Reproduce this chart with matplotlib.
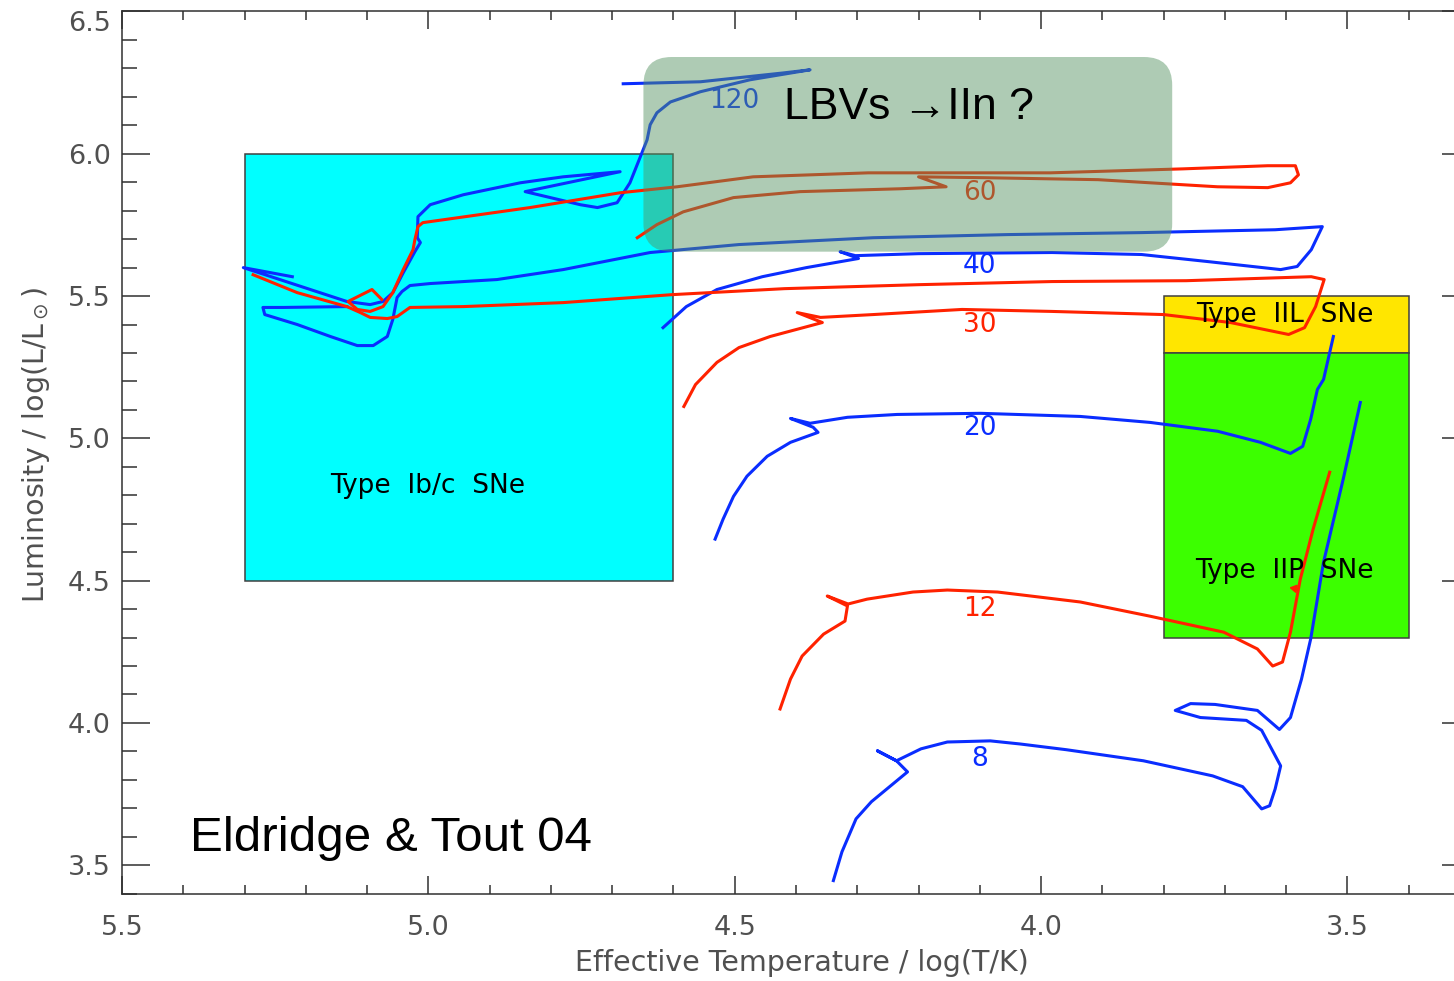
import numpy as np
import matplotlib
matplotlib.use("Agg")
import matplotlib.pyplot as plt
from matplotlib.patches import Rectangle, FancyBboxPatch
from matplotlib.ticker import MultipleLocator

# --- evolutionary tracks (log Teff, log L/Lsun) ---
logT_120 = [4.682, 4.556, 4.421, 4.377, 4.475, 4.556, 4.605, 4.627, 4.638, 4.643,
            4.671, 4.692, 4.724, 4.752, 4.842, 4.687, 4.780, 4.850, 4.943, 4.997,
            5.017, 5.018, 5.013, 5.022, 5.041, 5.058, 5.074, 5.095, 5.133, 5.302, 5.222]
logL_120 = [6.246, 6.253, 6.284, 6.295, 6.260, 6.218, 6.182, 6.144, 6.102, 6.049,
            5.898, 5.828, 5.811, 5.821, 5.867, 5.937, 5.919, 5.898, 5.856, 5.821,
            5.779, 5.705, 5.688, 5.656, 5.582, 5.512, 5.481, 5.470, 5.481, 5.600, 5.568]

logT_60 = [4.659, 4.627, 4.584, 4.502, 4.393, 4.230, 4.155, 4.200, 4.094, 3.907,
           3.822, 3.712, 3.630, 3.593, 3.580, 3.585, 3.630, 3.768, 3.985, 4.282,
           4.470, 4.594, 4.687, 4.834, 5.009, 5.017, 5.022, 5.025, 5.041, 5.058,
           5.074, 5.095, 5.116, 5.131, 5.092, 5.076]
logL_60 = [5.705, 5.751, 5.796, 5.846, 5.867, 5.877, 5.884, 5.919, 5.916, 5.909,
           5.898, 5.884, 5.881, 5.898, 5.926, 5.958, 5.958, 5.947, 5.933, 5.933,
           5.919, 5.884, 5.863, 5.811, 5.758, 5.744, 5.698, 5.663, 5.593, 5.512,
           5.463, 5.446, 5.453, 5.481, 5.523, 5.488]

logT_40 = [4.617, 4.579, 4.529, 4.455, 4.383, 4.298, 4.328, 4.303, 4.200, 3.982,
           3.836, 3.727, 3.609, 3.582, 3.559, 3.541, 3.618, 3.836, 4.055, 4.274,
           4.493, 4.638, 4.780, 4.888, 4.997, 5.030, 5.043, 5.051, 5.058, 5.067,
           5.090, 5.116, 5.160, 5.214, 5.267, 5.270, 5.237, 5.133]
logL_40 = [5.389, 5.463, 5.523, 5.568, 5.600, 5.632, 5.656, 5.642, 5.649, 5.653,
           5.646, 5.621, 5.593, 5.604, 5.663, 5.744, 5.733, 5.723, 5.716, 5.705,
           5.681, 5.653, 5.593, 5.558, 5.544, 5.537, 5.516, 5.495, 5.418, 5.358,
           5.326, 5.326, 5.358, 5.400, 5.435, 5.460, 5.460, 5.463]

logT_30 = [4.583, 4.564, 4.529, 4.493, 4.442, 4.357, 4.398, 4.360, 4.274, 4.129,
           3.982, 3.800, 3.691, 3.596, 3.570, 3.552, 3.538, 3.559, 3.763, 3.982,
           4.200, 4.419, 4.602, 4.780, 4.943, 5.030, 5.051, 5.067, 5.095, 5.111,
           5.133, 5.214, 5.286]
logL_30 = [5.112, 5.189, 5.267, 5.319, 5.358, 5.407, 5.442, 5.425, 5.435, 5.453,
           5.446, 5.435, 5.407, 5.365, 5.389, 5.463, 5.558, 5.568, 5.554, 5.551,
           5.540, 5.526, 5.505, 5.477, 5.463, 5.460, 5.428, 5.421, 5.425, 5.442,
           5.463, 5.512, 5.575]

logT_20 = [4.532, 4.519, 4.502, 4.480, 4.447, 4.409, 4.364, 4.372, 4.409, 4.377,
           4.316, 4.235, 4.099, 3.936, 3.822, 3.712, 3.642, 3.593, 3.573, 3.560,
           3.549, 3.539, 3.523]
logL_20 = [4.646, 4.716, 4.796, 4.867, 4.937, 4.986, 5.021, 5.039, 5.070, 5.053,
           5.074, 5.084, 5.088, 5.077, 5.056, 5.025, 4.986, 4.947, 4.972, 5.067,
           5.172, 5.207, 5.358]

logT_12 = [4.426, 4.409, 4.390, 4.355, 4.320, 4.316, 4.349, 4.315, 4.284, 4.209,
           4.153, 4.071, 3.936, 3.822, 3.702, 3.647, 3.622, 3.606, 3.593, 3.577,
           3.556, 3.529]
logL_12 = [4.049, 4.154, 4.235, 4.312, 4.358, 4.411, 4.446, 4.418, 4.435, 4.460,
           4.467, 4.460, 4.425, 4.375, 4.319, 4.260, 4.200, 4.214, 4.319, 4.505,
           4.681, 4.881]

logT_8 = [4.339, 4.325, 4.302, 4.277, 4.218, 4.236, 4.267, 4.236, 4.196, 4.153,
          4.083, 4.034, 3.959, 3.833, 3.720, 3.671, 3.640, 3.627, 3.618, 3.609,
          3.640, 3.665, 3.740, 3.781, 3.756, 3.716, 3.647, 3.611, 3.593, 3.575,
          3.560, 3.539, 3.507, 3.479]
logL_8 = [3.446, 3.547, 3.663, 3.723, 3.828, 3.867, 3.902, 3.867, 3.909, 3.933,
          3.937, 3.926, 3.906, 3.867, 3.814, 3.776, 3.698, 3.709, 3.768, 3.849,
          3.974, 4.009, 4.019, 4.044, 4.068, 4.065, 4.044, 3.977, 4.019, 4.154,
          4.295, 4.565, 4.856, 5.126]

masses = ["120", "60", "40", "30", "20", "12", "8"]
label_T = [4.50, 4.10, 4.10, 4.10, 4.10, 4.10, 4.10]
label_L = [6.187, 5.863, 5.604, 5.400, 5.035, 4.400, 3.874]

# SN progenitor regions: (Tmin, Tmax, Lmin, Lmax)
region_ibc = (4.6, 5.3, 4.5, 6.0)
region_iil = (3.4, 3.8, 5.3, 5.5)
region_iip = (3.4, 3.8, 4.3, 5.3)
region_lbv = (3.786, 4.649, 5.656, 6.340)

BLUE = "#0a2dff"
RED = "#ff2200"

tracks = [
    (logT_120, logL_120, BLUE),
    (logT_60, logL_60, RED),
    (logT_40, logL_40, BLUE),
    (logT_30, logL_30, RED),
    (logT_20, logL_20, BLUE),
    (logT_12, logL_12, RED),
    (logT_8, logL_8, BLUE),
]

fig = plt.figure(figsize=(14.54, 9.81), dpi=100)
# the right-hand side of the frame runs off the edge of the picture
ax = fig.add_axes([0.0839, 0.0890, 0.9271, 0.8993])
ax.set_xlim(5.5, 3.3)
ax.set_ylim(3.4, 6.5)

# shaded regions
for (t0, t1, l0, l1), fc in [(region_ibc, "#00ffff"),
                             (region_iil, "#ffe600"),
                             (region_iip, "#3cff00")]:
    ax.add_patch(Rectangle((t0, l0), t1 - t0, l1 - l0, facecolor=fc,
                           edgecolor="#404040", lw=1.1, zorder=1))

for T, L, c in tracks:
    ax.plot(T, L, color=c, lw=2.2, solid_joinstyle="round", zorder=3)

# small arrow head on the 12 Msun track
ax.plot([3.588], [4.475], marker=(3, 0, 200), color=RED, ms=6, zorder=3)

for m, t, l, (_, _, c) in zip(masses, label_T, label_L, tracks):
    ax.text(t, l, m, color=c, fontsize=19, ha="center", va="center", zorder=3)

# translucent LBV box on top of the tracks
t0, t1, l0, l1 = region_lbv
ax.add_patch(FancyBboxPatch((t0, l0), t1 - t0, l1 - l0,
                            boxstyle="round,pad=0,rounding_size=0.046",
                            mutation_aspect=2.15, facecolor=(84/255, 147/255, 97/255),
                            alpha=0.475, edgecolor="none", zorder=4))

ax.text(4.419, 6.121, "LBVs \u2192IIn ?", fontsize=32, ha="left", va="baseline",
        family=["Liberation Sans", "DejaVu Sans"], zorder=5)
ax.text(5.389, 3.551, "Eldridge & Tout 04", fontsize=35.5, ha="left", va="baseline",
        family=["Liberation Sans", "DejaVu Sans"], zorder=5)

ax.text(5.002, 4.832, "Type  Ib/c  SNe", fontsize=19, ha="center", va="center", zorder=5)
ax.text(3.603, 5.432, "Type  IIL  SNe", fontsize=19, ha="center", va="center", zorder=5)
ax.text(3.603, 4.533, "Type  IIP  SNe", fontsize=19, ha="center", va="center", zorder=5)

# axes styling, IDL-like
for s in ax.spines.values():
    s.set_color("#303030")
    s.set_linewidth(1.1)

ax.set_xticks([5.5, 5.0, 4.5, 4.0, 3.5], labels=["5.5", "5.0", "4.5", "4.0", "3.5"])
ax.set_yticks([3.5, 4.0, 4.5, 5.0, 5.5, 6.0, 6.5],
              labels=["3.5", "4.0", "4.5", "5.0", "5.5", "6.0", "6.5"])
ax.xaxis.set_minor_locator(MultipleLocator(0.1))
ax.yaxis.set_minor_locator(MultipleLocator(0.1))
ax.tick_params(axis="both", which="both", direction="in", top=True, right=True,
               color="#303030", width=1.1, labelcolor="#505050", labelsize=19.5)
ax.tick_params(axis="x", which="major", length=13, pad=15)
ax.tick_params(axis="x", which="minor", length=6.5)
ax.tick_params(axis="y", which="major", length=20, pad=8)
ax.tick_params(axis="y", which="minor", length=10.5)
ax.yaxis.get_major_ticks()[-1].label1.set_verticalalignment("top")

ax.set_xlabel("Effective Temperature / log(T/K)", fontsize=20.5, color="#505050")
ax.xaxis.set_label_coords(0.504, -0.063)
ax.set_ylabel(r"Luminosity / log(L/L$_\odot$)", fontsize=20.5, color="#505050")
ax.yaxis.set_label_coords(-0.052, 0.509)

fig.savefig("out.png", dpi=100)
